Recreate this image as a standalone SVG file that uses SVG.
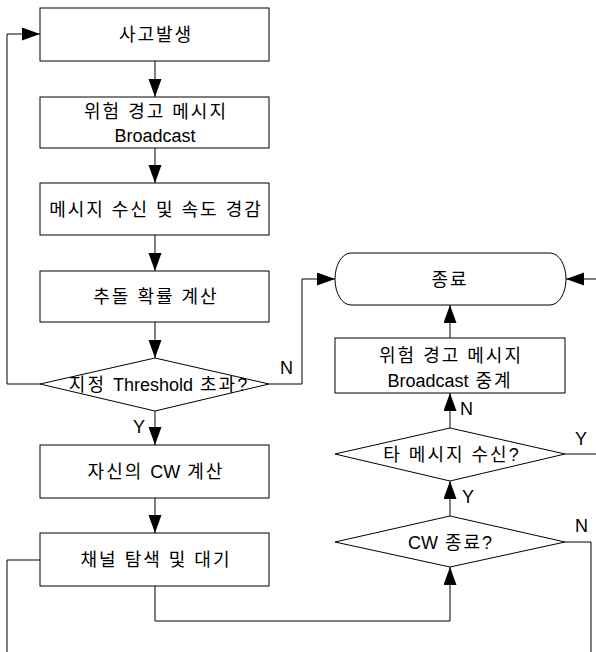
<svg xmlns="http://www.w3.org/2000/svg" width="596" height="652" viewBox="0 0 596 652">
<defs>
<style>
.box{fill:#fff;stroke:#000;stroke-width:1}
.ln{fill:none;stroke:#000;stroke-width:1}
.arr{fill:none;stroke:#000;stroke-width:1;marker-end:url(#ah)}
text{font-family:"Liberation Sans","Noto Sans CJK KR",sans-serif;font-size:18px;fill:#000;text-anchor:middle;letter-spacing:2px}
.lt{letter-spacing:0}
.lbl{text-anchor:start;letter-spacing:0}
</style>
<marker id="ah" markerUnits="userSpaceOnUse" markerWidth="19" markerHeight="14" refX="18" refY="6.5" orient="auto">
<path d="M0,0 L18,6.5 L0,13 Z" fill="#000"/>
</marker>
</defs>
<rect width="596" height="652" fill="#fff"/>
<g id="connectors">
<path class="arr" d="M155,61 L155,97"/>
<path class="arr" d="M155,148 L155,183"/>
<path class="arr" d="M155,235 L155,271"/>
<path class="arr" d="M155,322 L155,358"/>
<path class="arr" d="M40,384 L7,384 L7,34 L40,34"/>
<path class="arr" d="M269,384 L302,384 L302,279 L335,279"/>
<path class="arr" d="M155,411 L155,445"/>
<path class="arr" d="M155,498 L155,533"/>
<path class="ln" d="M40,560 L7,560 L7,652"/>
<path class="arr" d="M155,586 L155,621 L450,621 L450,567"/>
<path class="arr" d="M450,516 L450,481"/>
<path class="arr" d="M450,428 L450,393"/>
<path class="arr" d="M450,338 L450,305"/>
<path class="ln" d="M565,454 L596,454"/>
<path class="ln" d="M565,542 L591,542 L591,652"/>
<path class="arr" d="M596,279 L566,279"/>
<text class="lbl" x="280" y="374">N</text>
<text class="lbl" x="133" y="433">Y</text>
<text class="lbl" x="460" y="415">N</text>
<text class="lbl" x="575" y="445">Y</text>
<text class="lbl" x="462" y="503">Y</text>
<text class="lbl" x="575" y="532">N</text>
</g>
<g id="n1"><rect class="box" x="40" y="8" width="229" height="53"/><text x="156" y="41">사고발생</text></g>
<g id="n2"><rect class="box" x="40" y="97" width="229" height="51"/><text x="156" y="118">위험 경고 메시지</text><text class="lt" x="155" y="142">Broadcast</text></g>
<g id="n3"><rect class="box" x="40" y="183" width="229" height="52"/><text x="156" y="215.5">메시지 수신 및 속도 경감</text></g>
<g id="n4"><rect class="box" x="40" y="271" width="229" height="51"/><text x="156" y="303">추돌 확률 계산</text></g>
<g id="n5"><path class="box" d="M155,358 L269,384 L155,411 L40,384 Z"/><text x="158" y="390.5">지정 <tspan class="lt">Threshold</tspan> 초과<tspan class="lt">?</tspan></text></g>
<g id="n6"><rect class="box" x="40" y="445" width="229" height="53"/><text x="156" y="478">자신의 <tspan class="lt">CW</tspan> 계산</text></g>
<g id="n7"><rect class="box" x="40" y="533" width="229" height="53"/><text x="156" y="566">채널 탐색 및 대기</text></g>
<g id="n8"><rect class="box" x="335" y="253" width="231" height="52" rx="16" ry="26"/><text x="450" y="285.5">종료</text></g>
<g id="n9"><rect class="box" x="335" y="338" width="230" height="55"/><text x="451" y="362">위험 경고 메시지</text><text x="450" y="387"><tspan class="lt">Broadcast</tspan> 중계</text></g>
<g id="n10"><path class="box" d="M450,428 L565,454 L450,481 L335,454 Z"/><text x="451" y="460.5">타 메시지 수신<tspan class="lt">?</tspan></text></g>
<g id="n11"><path class="box" d="M450,516 L565,542 L450,567 L335,542 Z"/><text x="450" y="548.5"><tspan class="lt">CW</tspan> 종료<tspan class="lt">?</tspan></text></g>
</svg>
